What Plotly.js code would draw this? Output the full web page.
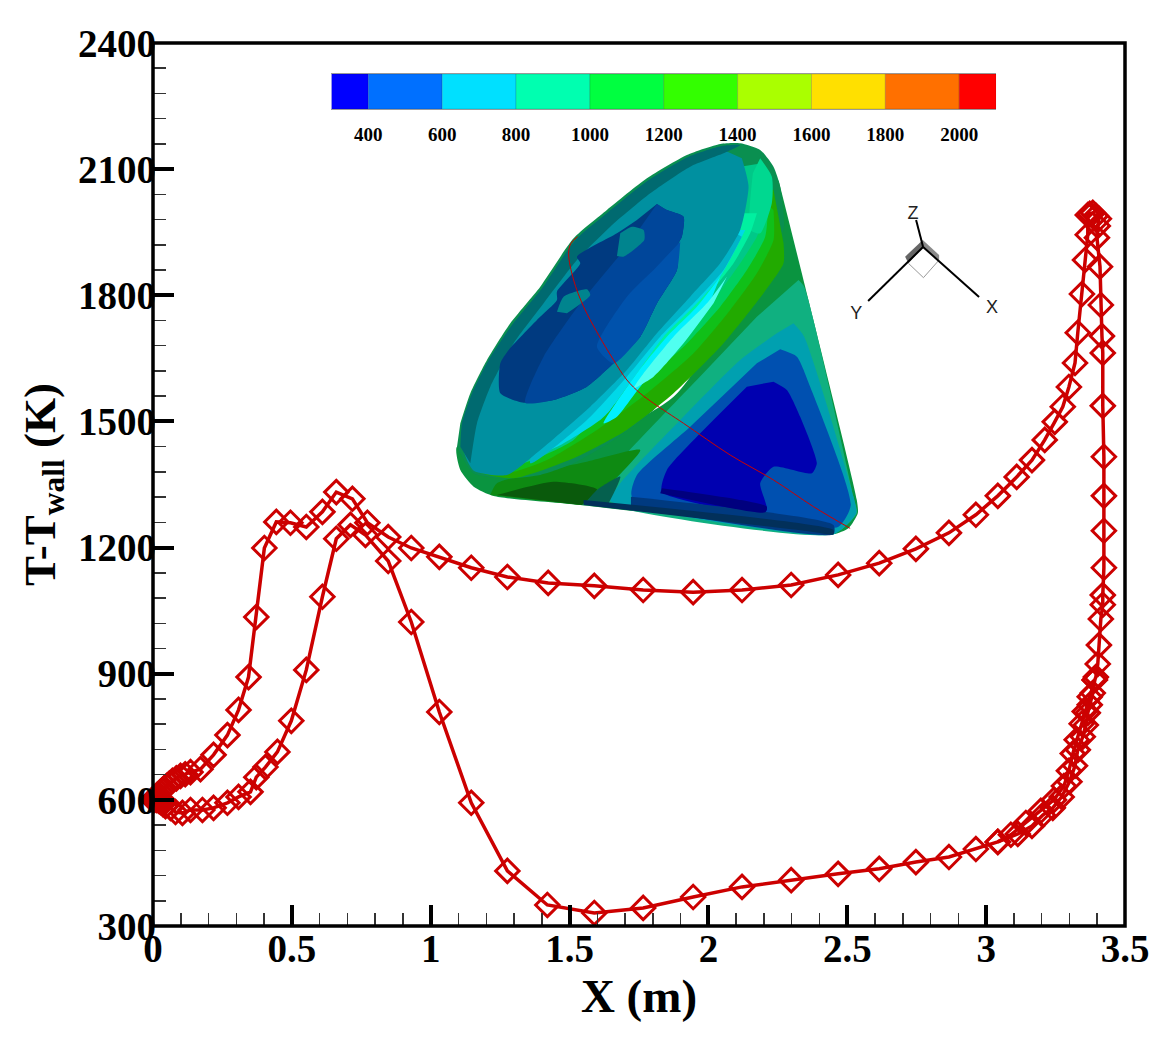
<!DOCTYPE html>
<html><head><meta charset="utf-8">
<script src="https://cdn.plot.ly/plotly-3.0.1.min.js"></script>
<style>html,body{margin:0;padding:0;background:#fff}</style></head><body>
<div id="chart" style="width:1171px;height:1041px"></div>
<script>
// Wall-path temperature profile (X in m, T-Twall in K), one closed walk along the surface
const xPath=[0,.004,.009,.014,.02,.027,.034,.041,.049,.059,.07,.084,.099,.116,.135,.171,.218,.268,.308,.344,.372,.401,.444,.495,.552,.61,.66,.718,.772,.847,.93,1.031,1.146,1.276,1.423,1.589,1.765,1.945,2.121,2.298,2.467,2.615,2.747,2.866,2.963,3.042,3.11,3.165,3.211,3.247,3.276,3.298,3.32,3.33,3.345,3.356,3.366,3.366,3.373,3.384,3.395,3.406,3.402,3.399,3.41,3.413,3.417,3.42,3.42,3.424,3.424,3.424,3.424,3.42,3.42,3.413,3.406,3.402,3.395,3.391,3.384,3.373,3.366,3.359,3.348,3.33,3.32,3.30,3.272,3.24,3.204,3.165,3.114,3.042,2.963,2.866,2.747,2.615,2.467,2.298,2.121,1.945,1.765,1.589,1.42,1.276,1.146,1.031,.93,.847,.765,.711,.66,.61,.552,.498,.448,.405,.372,.351,.308,.268,.218,.178,.135,.106,.081,.063,.045,.036,.027,.02,.013,.006,0];
const yPath=[600,604,607,611,614,619,623,628,633,639,645,651,657,661,666,673,707,754,814,892,1035,1199,1261,1259,1249,1285,1332,1316,1259,1225,1199,1178,1152,1130,1116,1109,1099,1094,1099,1111,1135,1163,1197,1235,1278,1323,1368,1408,1456,1499,1535,1582,1639,1711,1803,1884,1944,1991,1994,1996,1989,1982,1965,1937,1868,1777,1703,1663,1537,1416,1323,1240,1152,1087,1064,1030,968,923,892,885,854,826,807,778,750,719,681,643,607,581,564,538,519,500,483,464,452,436,424,409,393,369,343,331,350,431,593,809,1023,1168,1230,1254,1221,1083,909,788,714,678,654,619,607,593,581,576,576,569,571,581,585,590,595,598,600,600,600];
// Second run of markers that lies alongside the rising leg near the right-hand peak
const xSpur=[3.391,3.373,3.355,3.344,3.326,3.312,3.298,3.28,3.244,3.197,3.143,3.089,3.042];
const ySpur=[885,845,810,781,743,710,669,633,600,574,545,517,500];

// Colour-bar levels
const levelEdges=[300,400,600,800,1000,1200,1400,1600,1800,2000,2100];
const levelColors=['#0000ff','#0070ff','#00e0ff','#00ffb0','#00ff40','#33ff00','#aaff00','#ffe000','#ff7000','#ff0000'];
const levelTicks=[400,600,800,1000,1200,1400,1600,1800,2000];

// Inset regions, in the inset's own coordinates: [x,y] outline and colour, back to front
const coneBase=[[1015,150],[1085,430],[1250,1110],[1253,1150],[1225,1195],[1180,1213],[1100,1203],[420,1125],[160,1098],[100,1070],[60,1020],[50,950],[300,1000],[700,800],[900,500]];
const coneTealGreen=[[1075,450],[1092,470],[1240,1100],[1250,1150],[1180,1213],[510,1125],[470,1085],[560,970],[760,760],[950,560]];
const coneTeal=[[1060,580],[1092,620],[1240,1100],[1248,1150],[1180,1213],[570,1130],[510,1112],[540,1060],[720,870],[900,690],[1010,610]];
const coneBlue=[[1020,658],[1070,680],[1110,770],[1232,1125],[1195,1190],[1000,1180],[575,1100],[590,1035],[750,890],[950,700]];
const coneDeep=[[1000,755],[1040,780],[1080,860],[1130,1000],[1115,1030],[1000,1010],[960,1060],[980,1140],[940,1150],[665,1085],[680,1020],[780,910],[920,770]];
const baseNavy=[[665,1075],[980,1130],[975,1147],[660,1090]];
const baseDarkBlue=[[572,1100],[1180,1185],[1180,1213],[572,1130]];
const baseEdgeDark=[[430,1125],[1100,1203],[1180,1213],[1180,1200],[430,1110]];
const greenMid=[[150,1095],[170,1060],[440,995],[600,960],[480,1090],[420,1125]];
const greenDark=[[170,1095],[340,1055],[470,1078],[425,1125]];
const tealDark=[[430,1125],[470,1080],[540,1040],[505,1120]];
const faceRim=[[50,950],[100,1030],[200,1045],[300,1035],[400,1000],[520,930],[640,840],[760,700],[870,560],[960,400],[1030,300],[1020,170],[1000,110],[960,60],[900,40],[840,42],[740,75],[620,145],[500,240],[400,325],[300,470],[210,580],[140,690],[90,790],[60,880]];
const ridge1=[[1030,340],[1030,400],[970,490],[850,640],[700,790],[560,900],[400,985],[220,1045],[110,1020],[400,700],[900,150],[1000,180]];
const ridge2=[[1000,240],[1000,330],[950,430],[870,540],[760,670],[620,790],[470,900],[320,990],[200,1030],[110,1015],[400,700],[900,150]];
const ridge3=[[985,190],[975,320],[920,420],[840,530],[730,650],[600,760],[460,870],[300,970],[180,1025],[120,1000],[400,700],[900,150]];
const ridge4=[[965,100],[995,150],[985,240],[950,320],[900,400],[820,510],[700,640],[590,740],[470,850],[400,930],[290,985],[200,1010],[400,700],[900,110]];
const ridge5=[[950,250],[930,310],[880,400],[800,500],[690,620],[590,730],[490,840],[440,890],[300,960],[400,700],[900,250]];
const ridge6=[[915,300],[890,350],[840,440],[770,520],[670,620],[590,730],[510,840],[480,870],[320,960],[400,700],[880,300]];
const ridge7=[[905,320],[850,420],[760,520],[660,620],[560,740],[440,870],[270,1000],[400,700],[870,300]];
const faceTeal=[[905,85],[925,170],[900,300],[840,400],[750,500],[650,610],[560,720],[450,830],[300,960],[200,1035],[100,1022],[70,960],[100,850],[150,730],[220,610],[310,490],[410,350],[510,260],[630,165],[750,95],[850,60]];
const faceLens=[[860,440],[800,520],[700,620],[610,730],[580,775],[640,740],[730,640],[820,520]];
const faceCyan=[[840,440],[770,530],[680,620],[590,730],[490,880],[530,860],[600,770],[700,660],[800,540]];
const topGreen=[[960,85],[995,140],[995,220],[960,310],[930,300],[938,130]];
const outerRim=[[60,950],[65,880],[95,790],[145,690],[215,585],[305,475],[405,330],[505,245],[625,150],[745,80],[845,48],[900,45],[850,70],[750,110],[630,190],[510,290],[410,390],[310,520],[220,640],[150,770],[110,880],[90,1000]];
const blobDark=[[650,222],[680,240],[730,260],[725,320],[715,340],[710,420],[650,520],[600,620],[520,700],[440,770],[340,810],[250,818],[180,790],[180,700],[205,660],[290,570],[350,510],[350,485],[420,400],[410,380],[530,310],[590,270]];
const blobMid=[[650,222],[680,240],[730,260],[725,320],[715,340],[710,420],[650,520],[600,620],[520,700],[440,770],[340,810],[255,818],[310,680],[420,520],[560,350]];
const blobBright=[[720,335],[710,420],[650,520],[600,620],[520,700],[470,650],[560,500],[640,420]];
const patchA=[[540,310],[575,290],[610,300],[612,330],[550,380],[530,378]];
const patchB=[[350,545],[370,500],[440,478],[450,495],[380,550]];
const insetRegions=[
 [coneBase,'#0a9440'],[coneTealGreen,'#10b080'],[coneTeal,'#00a0b0'],[coneBlue,'#0050b0'],[coneDeep,'#0000b0'],
 [baseDarkBlue,'#003a80'],[baseNavy,'#00007e'],[greenMid,'#0e8a12'],[greenDark,'#0a5a0c'],[tealDark,'#05604e'],[baseEdgeDark,'#02305a'],
 [faceRim,'#0a8f50'],[ridge1,'#22aa00'],[ridge2,'#10c018'],[ridge3,'#00d060'],[ridge4,'#00c888'],[topGreen,'#00d890'],
 [ridge5,'#00f0a0'],[ridge6,'#00d8e8'],[ridge7,'#00b4c8'],[faceTeal,'#0090a0'],[faceCyan,'#00f0ff'],[faceLens,'#50fff0'],
 [outerRim,'#006a70'],[blobDark,'#003a80'],[blobMid,'#00469a'],[blobBright,'#0052ac'],[patchA,'#00848e'],[patchB,'#00848e']
];
const insetPath=[[412,320],[392,340],[385,370],[400,450],[430,530],[475,615],[520,690],[560,750],[600,790],[640,820],[730,880],[870,975],[1000,1050],[1120,1130],[1230,1195]];

// Orientation triad
const triadZ=[[1449,351],[1428,270]];
const triadY=[[1449,351],[1284,513]];
const triadX=[[1449,351],[1617,501]];
const triadDark=[[1448,330],[1395,380],[1405,400],[1449,351]];
const triadGrey=[[1448,330],[1497,375],[1497,390],[1449,351]];
const triadFrame=[[1405,400],[1450,443],[1497,390]];
const triadLabels=['Z','Y','X'];
const triadLabelPos=[[1419,252],[1248,552],[1656,534]];

const serif='"Liberation Serif","Times New Roman",serif';
const col=(p,i)=>p.map(q=>q[i]);
const data=[];
insetRegions.forEach(([p,c])=>data.push({type:'scatter',x:col(p,0),y:col(p,1),xaxis:'x2',yaxis:'y2',mode:'lines',fill:'toself',fillcolor:c,line:{width:0,shape:'spline',smoothing:.6,color:c},hoverinfo:'skip',showlegend:false}));
data.push({type:'scatter',x:col(insetPath,0),y:col(insetPath,1),xaxis:'x2',yaxis:'y2',mode:'lines',line:{color:'#cc0000',width:1,shape:'spline'},showlegend:false,hoverinfo:'skip'});
[[triadDark,'#666666'],[triadGrey,'#8a8a8a']].forEach(([p,c])=>data.push({type:'scatter',x:col(p,0),y:col(p,1),xaxis:'x2',yaxis:'y2',mode:'lines',fill:'toself',fillcolor:c,line:{width:0,color:c},showlegend:false,hoverinfo:'skip'}));
data.push({type:'scatter',x:col(triadFrame,0),y:col(triadFrame,1),xaxis:'x2',yaxis:'y2',mode:'lines',line:{color:'#999',width:1},showlegend:false,hoverinfo:'skip'});
[triadZ,triadY,triadX].forEach(p=>data.push({type:'scatter',x:col(p,0),y:col(p,1),xaxis:'x2',yaxis:'y2',mode:'lines',line:{color:'#000',width:2},showlegend:false,hoverinfo:'skip'}));
data.push({type:'scatter',x:col(triadLabelPos,0),y:col(triadLabelPos,1),text:triadLabels,xaxis:'x2',yaxis:'y2',mode:'text',textposition:'middle center',textfont:{family:'"Liberation Sans",Arial,sans-serif',size:18,color:'#222'},showlegend:false,hoverinfo:'skip'});
// colour bar
data.push({type:'bar',xaxis:'x3',yaxis:'y3',x:levelColors.map((_,i)=>(levelEdges[i]+levelEdges[i+1])/2),width:levelColors.map((_,i)=>levelEdges[i+1]-levelEdges[i]),y:levelColors.map(()=>1),marker:{color:levelColors,line:{width:.5,color:'rgba(0,0,0,0.3)'}},showlegend:false,hoverinfo:'skip'});
// profile
const mk={symbol:'diamond-open',size:18,color:'#cc0000',line:{color:'#cc0000',width:3}};
data.push({type:'scatter',x:xSpur,y:ySpur,mode:'lines+markers',line:{color:'#cc0000',width:3.5},marker:mk,cliponaxis:false,showlegend:false});
data.push({type:'scatter',x:xPath,y:yPath,mode:'lines+markers',line:{color:'#cc0000',width:3.5},marker:mk,cliponaxis:false,showlegend:false});

const tickFont={family:serif,size:39,color:'#000',weight:700};
const layout={
 width:1171,height:1041,paper_bgcolor:'#fff',plot_bgcolor:'#fff',showlegend:false,barmode:'overlay',
 margin:{l:152.5,r:46,t:43,b:115,pad:0},
 xaxis:{range:[0,3.5],tickvals:[0,.5,1,1.5,2,2.5,3,3.5],ticktext:['0','0.5','1','1.5','2','2.5','3','3.5'],ticks:'inside',ticklen:21,tickwidth:4,tickcolor:'#000',
  minor:{dtick:.1,tick0:0,ticks:'inside',ticklen:13,tickwidth:1.5,tickcolor:'#333',showgrid:false},showgrid:false,zeroline:false,showline:false,tickfont:tickFont,ticklabelstandoff:-4,
  title:{text:'X (m)',font:{family:serif,size:47,color:'#000',weight:700},standoff:2},automargin:false},
 yaxis:{range:[300,2400],tickvals:[300,600,900,1200,1500,1800,2100,2400],ticks:'inside',ticklen:21,tickwidth:4,tickcolor:'#000',
  minor:{dtick:60,tick0:300,ticks:'inside',ticklen:13,tickwidth:1.5,tickcolor:'#333',showgrid:false},showgrid:false,zeroline:false,showline:false,tickfont:tickFont,ticklabelstandoff:-4,
  title:{text:'T-T<sub>wall</sub> (K)',font:{family:serif,size:45,color:'#000',weight:700},standoff:8},automargin:false},
 xaxis2:{overlaying:'x',range:[-862.5,2055],visible:false,fixedrange:true},
 yaxis2:{overlaying:'y',range:[2388,-261],visible:false,fixedrange:true},
 xaxis3:{domain:[.18355,.8674],anchor:'y3',range:[300,2100],tickvals:levelTicks,ticks:'',showgrid:false,zeroline:false,showline:true,mirror:true,linecolor:'#999',linewidth:1,tickfont:{family:serif,size:19,color:'#000',weight:700},ticklabelstandoff:8},
 yaxis3:{domain:[.9252,.9649],anchor:'x3',range:[0,1],visible:false},
 shapes:[{type:'rect',xref:'paper',yref:'paper',x0:0,x1:1,y0:0,y1:1,line:{color:'#000',width:3.5},layer:'above'}]
};
Plotly.newPlot('chart',data,layout,{staticPlot:true,displayModeBar:false});
</script></body></html>
